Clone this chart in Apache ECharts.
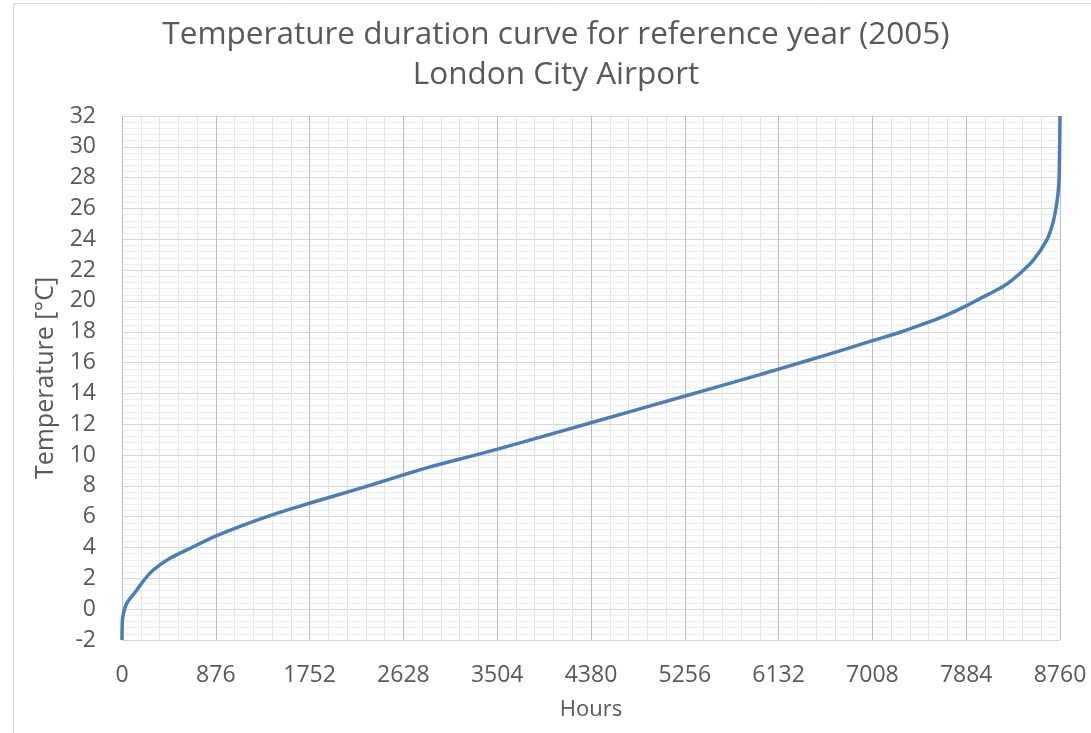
<!DOCTYPE html>
<html>
<head>
<meta charset="utf-8">
<script src="https://cdn.jsdelivr.net/npm/echarts@6/dist/echarts.min.js"></script>
<style>
  html, body { margin: 0; padding: 0; background: #ffffff; }
  #chart { width: 1091px; height: 733px; }
</style>
</head>
<body>
<div id="chart"></div>
<script>
// Sorted hourly temperatures for the reference year, sampled along the curve
const hours = [0, 3, 10, 44, 121, 199, 292, 448, 666, 879, 1134, 1445, 1750, 2067, 2378, 2627, 2860,
  3500, 4380, 5258, 5958, 6132, 6581, 7008, 7260, 7515, 7700, 7884, 8013, 8140, 8264, 8388, 8513, 8637, 8693,
  8730, 8749, 8755, 8760];
const temps = [-2, -0.8, -0.4, 0.38, 1.08, 1.82, 2.54, 3.3, 4.05, 4.75, 5.46, 6.22, 6.87, 7.52, 8.17, 8.71, 9.2,
  10.37, 12.1, 13.83, 15.22, 15.58, 16.5, 17.42, 17.95, 18.58, 19.08, 19.68, 20.15, 20.6, 21.1, 21.8, 22.66, 23.96, 25.04,
  26.34, 27.6, 29.1, 32];

const hourTicks = [0, 876, 1752, 2628, 3504, 4380, 5256, 6132, 7008, 7884, 8760];
const tempTicks = [-2, 0, 2, 4, 6, 8, 10, 12, 14, 16, 18, 20, 22, 24, 26, 28, 30, 32];

const titleLines = ['Temperature duration curve for reference year (2005)', 'London City Airport'];
const xName = 'Hours';
const yName = 'Temperature [°C]';

const FONT = '"Open Sans", sans-serif';
const TEXT = '#595959';

const chart = echarts.init(document.getElementById('chart'), null, { renderer: 'canvas' });

chart.setOption({
  backgroundColor: '#ffffff',
  animation: false,
  graphic: [{
    type: 'rect',
    shape: { x: 13.5, y: 3.5, width: 1100, height: 760 },
    style: { fill: 'none', stroke: '#d9d9d9', lineWidth: 1 },
    silent: true
  }].concat(titleLines.map((line, i) => ({
    type: 'text',
    x: 556,
    y: 35 + i * 40,
    silent: true,
    style: {
      text: line,
      fill: TEXT,
      font: 'normal 31.5px ' + FONT,
      textAlign: 'center',
      textVerticalAlign: 'middle'
    }
  }))),
  grid: { left: 122, right: 31, top: 116, bottom: 93, containLabel: false },
  xAxis: {
    type: 'value',
    min: hourTicks[0],
    max: hourTicks[hourTicks.length - 1],
    interval: hourTicks[1] - hourTicks[0],
    name: xName,
    nameLocation: 'middle',
    nameGap: 59,
    nameTextStyle: { fontFamily: FONT, fontSize: 22, color: TEXT },
    axisLine: { show: false },
    axisTick: { show: false },
    axisLabel: { fontFamily: FONT, fontSize: 23, color: TEXT, margin: 24, formatter: v => String(v) },
    splitLine: { show: true, lineStyle: { color: '#bdbdbd', width: 1 } },
    minorTick: { show: false, splitNumber: 5 },
    minorSplitLine: { show: true, lineStyle: { color: '#e3e3e3', width: 1 } }
  },
  yAxis: {
    type: 'value',
    min: tempTicks[0],
    max: tempTicks[tempTicks.length - 1],
    interval: tempTicks[1] - tempTicks[0],
    name: yName,
    nameLocation: 'middle',
    nameGap: 60,
    nameRotate: 90,
    nameTextStyle: { fontFamily: FONT, fontSize: 25, color: TEXT },
    axisLine: { show: false },
    axisTick: { show: false },
    axisLabel: { fontFamily: FONT, fontSize: 23, color: TEXT, margin: 26, formatter: v => String(v) },
    splitLine: { show: true, lineStyle: { color: '#d6d6d6', width: 1 } },
    minorTick: { show: false, splitNumber: 5 },
    minorSplitLine: { show: true, lineStyle: { color: '#ededed', width: 1 } }
  },
  series: [{
    type: 'line',
    data: hours.map((h, i) => [h, temps[i]]),
    showSymbol: false,
    smooth: 0.35,
    clip: false,
    lineStyle: { color: '#4a7ebb', width: 3.5 }
  }]
});
</script>
</body>
</html>
